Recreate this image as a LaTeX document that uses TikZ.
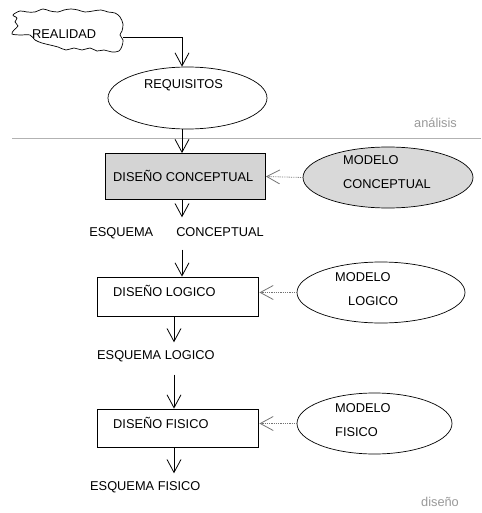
\documentclass[tikz,border=0pt]{standalone}
\usepackage{fontspec}
\setmainfont{Liberation Sans}
\usetikzlibrary{shapes.geometric,arrows.meta}
\begin{document}
\begin{tikzpicture}[x=1pt, y=-1pt,
	font=\fontsize{12.8}{15}\selectfont,
	texto/.style={inner sep=0pt, text height=9pt, text depth=0pt},
	nota/.style={texto, black!40},
	caja/.style={draw, line width=0.8pt, minimum width=161pt, minimum height=39pt},
	elipse/.style={draw, ellipse, line width=0.7pt, minimum width=168pt, minimum height=61pt},
	flecha/.style={line width=0.8pt, -{Straight Barb[length=13pt,width=14pt]}},
	punteada/.style={flecha, black!55, densely dotted}]
	\useasboundingbox (0,0) rectangle (481,513);
	\coordinate (ejeA) at (182,0);
	\coordinate (ejeB) at (174,0);
	\draw[black!30, line width=0.8pt] (12,138) -- (481,138);
	\draw[line width=0.7pt] plot[smooth cycle, tension=0.55] coordinates {(13,15) (20,11) (27,12) (35,12) (43,9) (50,11) (58,12) (64,10) (71,9) (78,10) (85,12) (93,11) (101,10) (108,12) (115,13) (120,17) (123,24) (122,31) (120,35) (123,40) (122,46) (119,51) (112,52) (104,50) (97,51) (90,48) (82,50) (74,48) (66,50) (58,47) (50,45) (42,43) (35,40) (30,35) (20,35) (12,34) (14,30) (18,26) (15,22) (17,18)};
	\node[minimum width=110pt, minimum height=42pt] (nube) at (68,31) {};
	\node[texto, anchor=west] (realidad) at (32,34) {REALIDAD};
	\node[elipse, minimum width=159pt, minimum height=62pt] (req) at (187.5,98) {};
	\node[texto] (requisitos) at (183.5,84) {REQUISITOS};
	\node[nota] (analisis) at (435.5,123) {análisis};
	\node[caja, fill=black!17, minimum width=160pt, minimum height=46pt] (dcon) at (185.5,176.5) {};
	\node[texto, anchor=west] at (113,177) {DISEÑO CONCEPTUAL};
	\node[elipse, fill=black!15, minimum width=170pt] (mcon) at (388,177.5) {};
	\node[texto, anchor=west] at (343,160) {MODELO};
	\node[texto, anchor=west] at (343,184) {CONCEPTUAL};
	\node[texto] (econ) at (176.5,232) {ESQUEMA\hspace{23pt}CONCEPTUAL};
	\node[caja] (dlog) at (177.5,296.5) {};
	\node[texto, anchor=west] at (113,292) {DISEÑO LOGICO};
	\node[elipse] (mlog) at (381,292.5) {};
	\node[texto, anchor=west] at (335,277) {MODELO};
	\node[texto, anchor=west] at (348,301) {LOGICO};
	\node[texto, anchor=west] (elog) at (97,355) {ESQUEMA LOGICO};
	\node[caja, minimum height=38pt] (dfis) at (177.5,428) {};
	\node[texto, anchor=west] at (113,424) {DISEÑO FISICO};
	\node[elipse, minimum width=155pt] (mfis) at (374.5,423.5) {};
	\node[texto, anchor=west] at (335,408) {MODELO};
	\node[texto, anchor=west] at (335,432) {FISICO};
	\node[texto, anchor=west] (efis) at (90,486) {ESQUEMA FISICO};
	\node[nota] (diseno) at (440,502) {diseño};
	\draw[flecha] ([yshift=-6pt]nube.east) -| (req.north -| ejeA);
	\draw[flecha] (req.south -| ejeA) -- (dcon.north -| ejeA);
	\draw[flecha] (dcon.south -| ejeA) -- ([yshift=10pt]econ.north -| ejeA);
	\draw[flecha] ([yshift=-13pt]econ.south -| ejeA) -- (dlog.north -| ejeA);
	\draw[flecha] (dlog.south -| ejeB) -- ([yshift=8pt]elog.north -| ejeB);
	\draw[flecha] ([yshift=-15pt]elog.south -| ejeB) -- (dfis.north -| ejeB);
	\draw[flecha] (dfis.south -| ejeB) -- ([yshift=8pt]efis.north -| ejeB);
	\draw[punteada] (mcon.west) -- (dcon.east);
	\draw[punteada] (mlog.west) -- ([xshift=1pt]dlog.east |- mlog.west);
	\draw[punteada] (mfis.west) -- ([xshift=1pt]dfis.east |- mfis.west);
\end{tikzpicture}
\end{document}
